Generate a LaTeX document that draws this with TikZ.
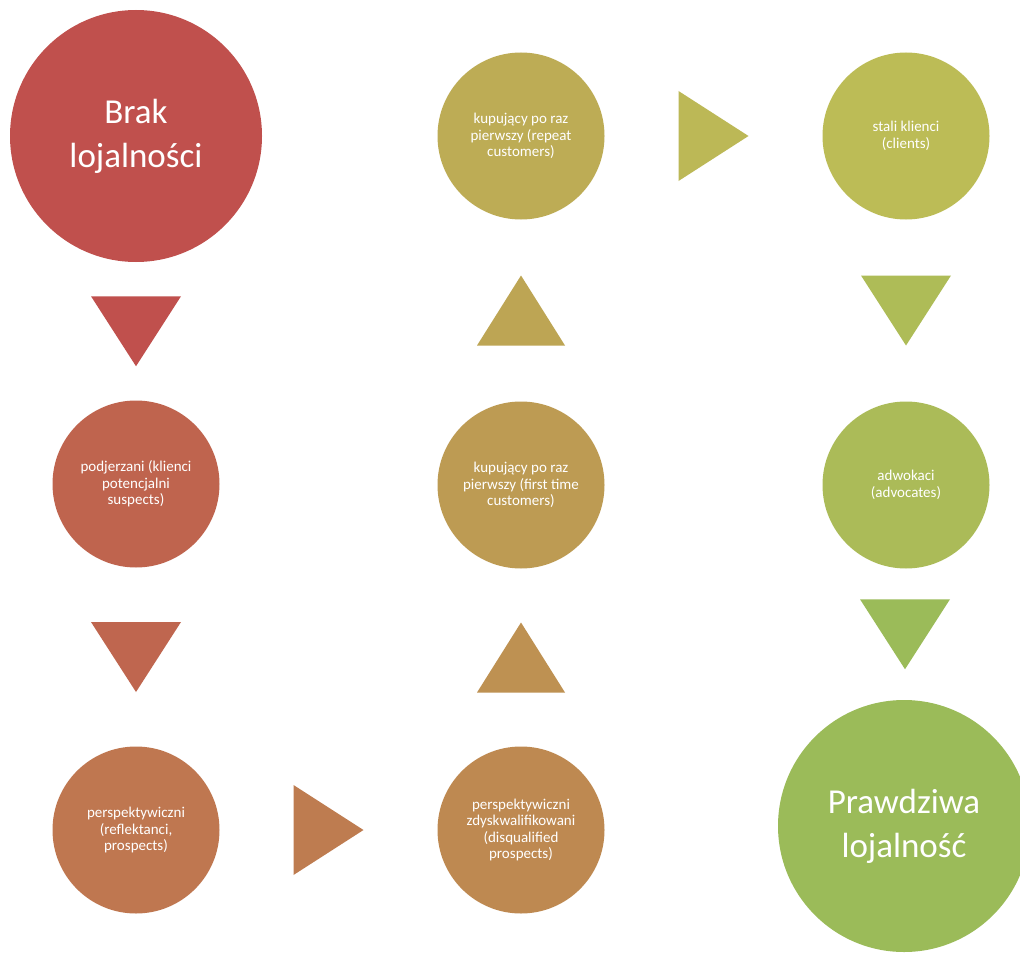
\documentclass[tikz,border=0pt]{standalone}
\usepackage{fontspec}
\setmainfont{Carlito}
\usetikzlibrary{calc}
\definecolor{c1}{RGB}{192,80,77}
\definecolor{c2}{RGB}{191,100,78}
\definecolor{c3}{RGB}{191,119,80}
\definecolor{c4}{RGB}{190,137,81}
\definecolor{c5}{RGB}{189,155,83}
\definecolor{c6}{RGB}{189,172,85}
\definecolor{c7}{RGB}{188,188,86}
\definecolor{c8}{RGB}{171,187,88}
\definecolor{c9}{RGB}{155,187,89}
\definecolor{a1}{RGB}{192,80,77}
\definecolor{a2}{RGB}{191,102,79}
\definecolor{a3}{RGB}{190,124,80}
\definecolor{a4}{RGB}{190,145,82}
\definecolor{a5}{RGB}{189,165,84}
\definecolor{a6}{RGB}{188,184,86}
\definecolor{a7}{RGB}{174,188,87}
\definecolor{a8}{RGB}{155,187,89}
\tikzset{
  stage/.style={circle, inner sep=0pt, minimum size=167pt, text=white, align=center,
    font=\fontsize{15pt}{16.5pt}\selectfont},
  bigstage/.style={circle, inner sep=0pt, minimum size=252pt, text=white, align=center,
    font=\fontsize{35pt}{44pt}\selectfont},
}
\begin{document}
\begin{tikzpicture}[x=1pt,y=-1pt]
\fill[white] (0,0) rectangle (1020,955);
\useasboundingbox (0,0) rectangle (1020,955);
\begin{scope}
\clip (0,0) rectangle (1020,955);
\node[bigstage, fill=c1] (n1) at (136,136) {Brak\\lojalności};
\node[stage, fill=c2] (n2) at (136,484) {podjerzani (klienci\\potencjalni\\suspects)};
\node[stage, fill=c3] (n3) at (136,830) {perspektywiczni\\(reflektanci,\\prospects)};
\node[stage, fill=c4] (n4) at (521,830) {perspektywiczni\\zdyskwalifikowani\\(disqualified\\prospects)};
\node[stage, fill=c5] (n5) at (521,485) {kupujący po raz\\pierwszy (first time\\customers)};
\node[stage, fill=c6] (n6) at (521,136) {kupujący po raz\\pierwszy (repeat\\customers)};
\node[stage, fill=c7] (n7) at (906,136) {stali klienci\\(clients)};
\node[stage, fill=c8] (n8) at (906,485) {adwokaci\\(advocates)};
\node[bigstage, fill=c9] (n9) at (904,826) {Prawdziwa\\lojalność};

% connectors (triangles centred in the gaps between circles)
\coordinate (m1) at ($(n1.south)!0.5!(n2.north)$);
\coordinate (m2) at ($(n2.south)!0.5!(n3.north)$);
\coordinate (m3) at ($(n3.east)!0.5!(n4.west)$);
\coordinate (m4) at ($(n4.north)!0.5!(n5.south)$);
\coordinate (m5) at ($(n5.north)!0.5!(n6.south)$);
\coordinate (m6) at ($(n6.east)!0.5!(n7.west)$);
\coordinate (m7) at ($(n7.south)!0.5!(n8.north)$);
\coordinate (m8) at ($(n8.south)!0.5!(n9.north)$);
% down
\fill[a1] ($(m1)+(-45,-35)$) -- ($(m1)+(45,-35)$) -- ($(m1)+(0,35)$) -- cycle;
\fill[a2] ($(m2)+(-45,-35)$) -- ($(m2)+(45,-35)$) -- ($(m2)+(0,35)$) -- cycle;
% right
\fill[a3] ($(m3)+(-35,-45)$) -- ($(m3)+(35,0)$) -- ($(m3)+(-35,45)$) -- cycle;
% up
\fill[a4] ($(m4)+(-44,35)$) -- ($(m4)+(44,35)$) -- ($(m4)+(0,-35)$) -- cycle;
\fill[a5] ($(m5)+(-44,35)$) -- ($(m5)+(44,35)$) -- ($(m5)+(0,-35)$) -- cycle;
% right
\fill[a6] ($(m6)+(-35,-45)$) -- ($(m6)+(35,0)$) -- ($(m6)+(-35,45)$) -- cycle;
% down
\fill[a7] ($(m7)+(-45,-35)$) -- ($(m7)+(45,-35)$) -- ($(m7)+(0,35)$) -- cycle;
\fill[a8] ($(m8)+(-45,-35)$) -- ($(m8)+(45,-35)$) -- ($(m8)+(0,35)$) -- cycle;
\end{scope}
\end{tikzpicture}
\end{document}
